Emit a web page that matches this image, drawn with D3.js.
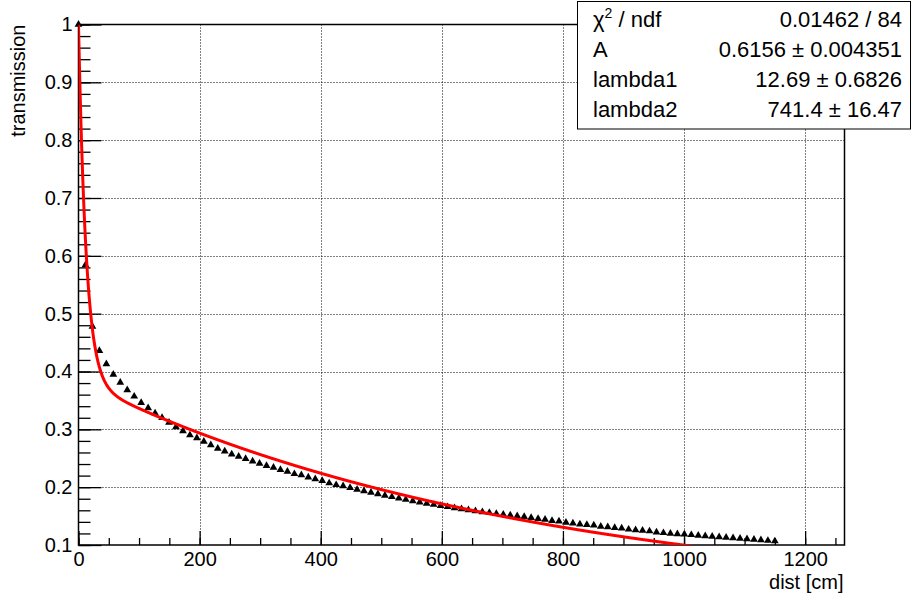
<!DOCTYPE html>
<html>
<head>
<meta charset="utf-8">
<script src="https://cdn.jsdelivr.net/npm/d3@7"></script>
<style>
  html, body { margin: 0; padding: 0; background: #fff; }
  text { font-family: "Liberation Sans", Arial, sans-serif; fill: #000; }
</style>
</head>
<body>
<div class="chart"></div>
<script>
// measured points (dist in cm, transmission)
const dist = [
  0, 11.5, 23, 34.5, 46, 57.5, 69, 80.5, 92, 103.5,
  115, 126.5, 138, 149.5, 161, 172.5, 184, 195.5, 207, 218.5,
  230, 241.5, 253, 264.5, 276, 287.5, 299, 310.5, 322, 333.5,
  345, 356.5, 368, 379.5, 391, 402.5, 414, 425.5, 437, 448.5,
  460, 471.5, 483, 494.5, 506, 517.5, 529, 540.5, 552, 563.5,
  575, 586.5, 598, 609.5, 621, 632.5, 644, 655.5, 667, 678.5,
  690, 701.5, 713, 724.5, 736, 747.5, 759, 770.5, 782, 793.5,
  805, 816.5, 828, 839.5, 851, 862.5, 874, 885.5, 897, 908.5,
  920, 931.5, 943, 954.5, 966, 977.5, 989, 1000.5, 1012, 1023.5,
  1035, 1046.5, 1058, 1069.5, 1081, 1092.5, 1104, 1115.5, 1127, 1138.5,
  1150
];
const transmission = [
  1.000, 0.584, 0.478, 0.436, 0.413, 0.395, 0.381, 0.368, 0.357, 0.346,
  0.337, 0.328, 0.320, 0.312, 0.304, 0.297, 0.290, 0.285, 0.279, 0.273,
  0.267, 0.262, 0.257, 0.253, 0.249, 0.245, 0.241, 0.237, 0.234, 0.230,
  0.227, 0.223, 0.221, 0.217, 0.214, 0.211, 0.207, 0.204, 0.202, 0.199,
  0.196, 0.1933, 0.1907, 0.1881, 0.1856, 0.1832, 0.1808, 0.1785, 0.1762, 0.1740,
  0.1719, 0.1698, 0.1678, 0.1659, 0.1640, 0.1622, 0.1605, 0.1588, 0.1572, 0.1556,
  0.1541, 0.1527, 0.1513, 0.1500, 0.149, 0.147, 0.1455, 0.144, 0.142, 0.141,
  0.139, 0.1375, 0.136, 0.135, 0.134, 0.132, 0.131, 0.130, 0.129, 0.127,
  0.126, 0.125, 0.124, 0.122, 0.121, 0.120, 0.119, 0.1185, 0.1175, 0.1166,
  0.1157, 0.1148, 0.1139, 0.113, 0.1121, 0.1112, 0.1103, 0.1094, 0.1085, 0.1076,
  0.1067
];

// fit result shown in the stats box
const fitNames = ["A", "lambda1", "lambda2"];
const fitValues = [0.6156, 12.69, 741.4];
const fitErrors = [0.004351, 0.6826, 16.47];
const chi2 = 0.01462;
const ndf = 84;

const xTicks = [0, 200, 400, 600, 800, 1000, 1200];
const yTicks = [0.1, 0.2, 0.3, 0.4, 0.5, 0.6, 0.7, 0.8, 0.9, 1];

const width = 914, height = 596;
const frame = {left: 78.5, right: 844.5, top: 24.5, bottom: 545};

const svg = d3.select(".chart").append("svg")
    .attr("width", width)
    .attr("height", height);

const x = d3.scaleLinear().domain([0, 1265]).range([frame.left, frame.right]);
const y = d3.scaleLinear().domain([0.1, 1]).range([frame.bottom, frame.top]);

svg.append("clipPath").attr("id", "clip")
  .append("rect")
    .attr("x", frame.left).attr("y", frame.top)
    .attr("width", frame.right - frame.left)
    .attr("height", frame.bottom - frame.top);

/* grid */
const grid = svg.append("g")
    .attr("stroke", "#000")
    .attr("stroke-width", 1)
    .attr("stroke-dasharray", "1,2");
grid.selectAll(".gx")
  .data(xTicks.filter(d => d > 0))
  .enter().append("line")
    .attr("x1", d => Math.round(x(d)) + 0.5).attr("x2", d => Math.round(x(d)) + 0.5)
    .attr("y1", frame.top).attr("y2", frame.bottom);
grid.selectAll(".gy")
  .data(yTicks.filter(d => d > 0.1 && d < 1))
  .enter().append("line")
    .attr("y1", d => Math.round(y(d)) + 0.5).attr("y2", d => Math.round(y(d)) + 0.5)
    .attr("x1", frame.left).attr("x2", frame.right);

/* axes, ticks pointing into the frame */
const xMinor = d3.axisBottom(x)
    .tickValues(d3.range(0, 1265, 50))
    .tickSizeInner(-7).tickSizeOuter(0)
    .tickFormat("");
const xMajor = d3.axisBottom(x)
    .tickValues(xTicks)
    .tickSizeInner(-14).tickSizeOuter(0)
    .tickPadding(7)
    .tickFormat(d3.format("d"));
const yMinor = d3.axisLeft(y)
    .tickValues(d3.range(0.1, 1.001, 0.02))
    .tickSizeInner(-12).tickSizeOuter(0)
    .tickFormat("");
const yMajor = d3.axisLeft(y)
    .tickValues(yTicks)
    .tickSizeInner(-23).tickSizeOuter(0)
    .tickPadding(6)
    .tickFormat(d => d === 1 ? "1" : d3.format(".1f")(d));

function styleAxis(g) {
  g.select(".domain").remove();
  g.selectAll("line").attr("stroke", "#000").attr("stroke-width", 1.3);
  g.selectAll("text").attr("font-size", "20px")
    .attr("font-family", "'Liberation Sans', Arial, sans-serif");
}

svg.append("g").attr("transform", "translate(0," + frame.bottom + ")").call(xMinor).call(styleAxis);
svg.append("g").attr("transform", "translate(0," + frame.bottom + ")").call(xMajor).call(styleAxis);
svg.append("g").attr("transform", "translate(" + frame.left + ",0)").call(yMinor).call(styleAxis);
svg.append("g").attr("transform", "translate(" + frame.left + ",0)").call(yMajor).call(styleAxis);

/* frame */
svg.append("rect")
    .attr("x", frame.left).attr("y", frame.top)
    .attr("width", frame.right - frame.left)
    .attr("height", frame.bottom - frame.top)
    .attr("fill", "none")
    .attr("stroke", "#000")
    .attr("stroke-width", 1.5);

/* axis titles */
svg.append("text")
    .attr("x", frame.right - 1).attr("y", 589)
    .attr("text-anchor", "end")
    .attr("font-size", "20px")
    .text("dist [cm]");
svg.append("text")
    .attr("transform", "translate(25," + frame.top + ") rotate(-90)")
    .attr("text-anchor", "end")
    .attr("font-size", "20px")
    .text("transmission");

/* data points */
const points = dist.map((d, i) => ({x: d, y: transmission[i]}));
const tri = d3.symbol(d3.symbolTriangle, 26);
svg.append("g").selectAll("path")
  .data(points)
  .enter().append("path")
    .attr("transform", d => "translate(" + x(d.x) + "," + y(d.y) + ")")
    .attr("d", tri)
    .attr("fill", "#000");

/* fitted function */
const fitFn = t => fitValues[0] * Math.exp(-t / fitValues[1]) +
                   (1 - fitValues[0]) * Math.exp(-t / fitValues[2]);
const fitX = d3.range(0, d3.max(dist) + 0.5, 0.5);
const line = d3.line().x(d => x(d)).y(d => y(fitFn(d)));
svg.append("path")
    .datum(fitX)
    .attr("clip-path", "url(#clip)")
    .attr("d", line)
    .attr("fill", "none")
    .attr("stroke", "#ff0000")
    .attr("stroke-width", 3);

/* stats box */
const box = {x: 577.5, y: 1.5, w: 333, h: 127.5};
const stats = svg.append("g");
stats.append("rect")
    .attr("x", box.x).attr("y", box.y)
    .attr("width", box.w).attr("height", box.h)
    .attr("fill", "#fff")
    .attr("stroke", "#000")
    .attr("stroke-width", 1);

const rowY = [27, 57, 87, 117];
const chiLabel = stats.append("text")
    .attr("x", 593).attr("y", rowY[0])
    .attr("font-size", "22px");
chiLabel.append("tspan").text("χ");
chiLabel.append("tspan").attr("font-size", "14px").attr("dy", -9).text("2");
chiLabel.append("tspan").attr("dy", 9).text(" / ndf");
stats.append("text")
    .attr("x", 902).attr("y", rowY[0])
    .attr("text-anchor", "end")
    .attr("font-size", "22px")
    .text(chi2 + " / " + ndf);

fitNames.forEach((name, i) => {
  stats.append("text")
      .attr("x", 593).attr("y", rowY[i + 1])
      .attr("font-size", "22px")
      .text(name);
  stats.append("text")
      .attr("x", 902).attr("y", rowY[i + 1])
      .attr("text-anchor", "end")
      .attr("font-size", "22px")
      .text(fitValues[i] + " ± " + fitErrors[i]);
});
</script>
</body>
</html>
